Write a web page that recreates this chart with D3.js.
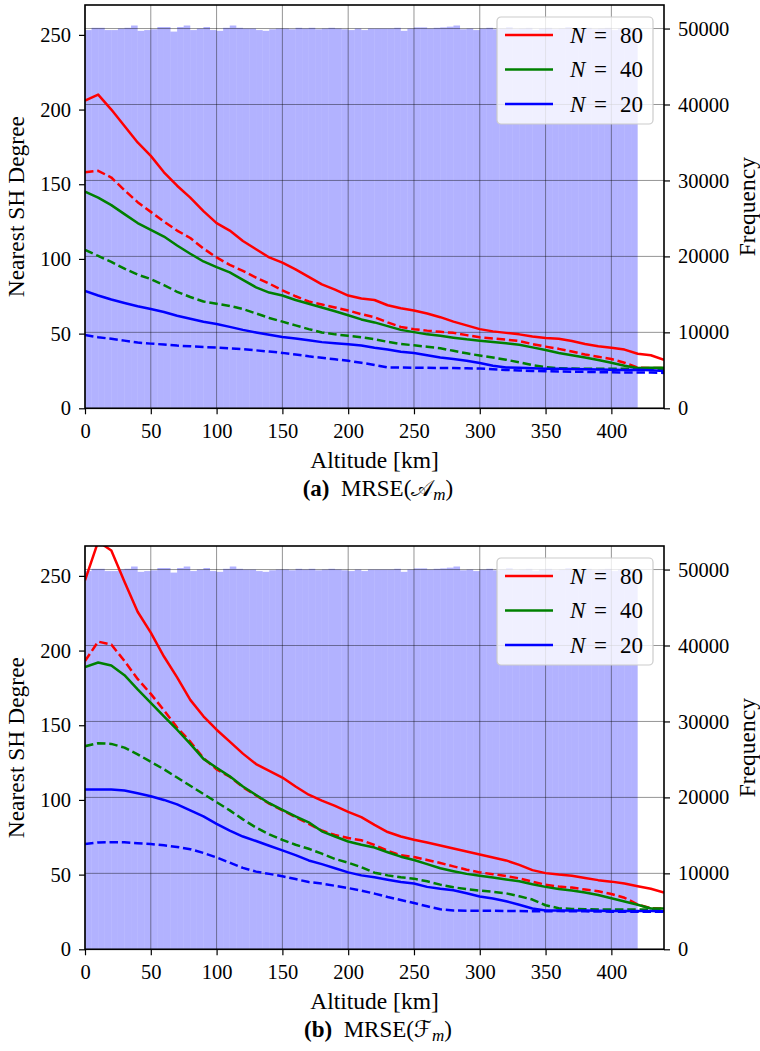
<!DOCTYPE html>
<html>
<head>
<meta charset="utf-8">
<script src="https://cdn.jsdelivr.net/npm/d3@7"></script>
<style>
  body { margin: 0; background: #fff; }
  svg { display: block; font-family: "Liberation Serif", "DejaVu Serif", serif; }
</style>
</head>
<body>
<svg id="fig" width="760" height="1051"></svg>
<script>
// Altitude samples (km) shared by every curve
const altitudes = [0, 10, 20, 30, 40, 50, 60, 70, 80, 90, 100, 110, 120, 130, 140, 150, 160, 170, 180, 190,
    200, 210, 220, 230, 240, 250, 260, 270, 280, 290, 300, 310, 320, 330, 340, 350, 360, 370, 380, 390,
    400, 410, 420, 430, 440];

// Panel (a) : MRSE(A_m)
const redSolidA = [206, 210, 200, 189, 178, 169, 158, 149, 141, 132, 124, 119, 112, 106.5, 101, 97.5, 93, 88, 83, 79.5,
    75.5, 73.5, 72.5, 69, 67, 65.5, 63.5, 61, 58, 55.5, 53, 51.5, 50.5, 49.5, 48, 47, 46.5, 45, 43, 41.5,
    40.5, 39.3, 36.5, 35.5, 32.5];
const redDashA = [158, 159, 154.5, 146, 138, 131.5, 125, 119, 114, 107, 101, 96, 92, 87.5, 83.5, 79, 75, 71.5, 69.5, 67.5,
    65.5, 63, 61, 57.5, 54.5, 53, 52, 51.2, 50.5, 49, 47.5, 46.8, 46, 45, 43, 41.3, 39.8, 38, 36, 34.5,
    33, 30.5, 27.3, 27, 27];
const greenSolidA = [145, 141, 136, 130, 124, 119.5, 115, 109, 103.5, 98.3, 94.5, 91, 86, 81, 77.5, 75.5, 72.5, 70, 67.5, 65,
    62.3, 59.5, 57.5, 55, 52.5, 51, 49.5, 48.5, 47.3, 46.2, 45.3, 44.4, 43.5, 42.5, 40.8, 39, 37, 35.5, 34, 32.3,
    30.5, 28.5, 27, 27.2, 27.2];
const greenDashA = [106, 102, 98, 93.5, 89.5, 86.5, 82.5, 78, 74.5, 71.5, 70, 68.5, 66.5, 63.5, 60.5, 58, 55.5, 53, 50.8, 49.5,
    48.5, 47.5, 46.2, 44.5, 43, 42.2, 41.2, 40.2, 38.5, 36.8, 35.3, 34, 32.5, 30.8, 28.9, 27.5, 26.8, 26.6, 26.5, 26.5,
    26.5, 26.5, 26.5, 26.5, 26.5];
const blueSolidA = [78.5, 75.5, 72.8, 70.5, 68.3, 66.5, 64.5, 62, 60, 58, 56.5, 54.5, 52.5, 50.8, 49.2, 47.8, 46.8, 45.5, 44.3, 43.5,
    42.8, 42, 40.5, 39.3, 37.8, 37, 35.5, 34, 33, 31.8, 30.3, 28.5, 27.3, 27.2, 26.8, 26.5, 26.4, 26.3, 26.2, 26,
    25.8, 25.6, 25.8, 25.5, 25];
const blueDashA = [49, 47.6, 46.5, 45.3, 44, 43.3, 42.7, 42, 41.5, 41, 40.7, 40.2, 39.6, 38.8, 38, 37.1, 36, 34.8, 33.8, 32.8,
    31.8, 30.5, 29, 27.4, 27.3, 27.2, 27.1, 27, 26.9, 26.8, 26.6, 26.2, 25.7, 25.3, 25, 24.8, 24.6, 24.5, 24.4, 24.2,
    24.1, 24, 24, 23.9, 23.7];

// Panel (b) : MRSE(F_m)
const redSolidB = [247, 273, 267, 246, 226, 212, 196, 182, 167, 156, 147, 139, 131, 124, 119.5, 115, 109, 103.5, 99.5, 96,
    92, 88.5, 83.3, 78.5, 75.5, 73.3, 71.5, 69.5, 67.5, 65.5, 63.5, 61.5, 59.5, 56.5, 53, 51, 50, 49.3, 47.8, 46.3,
    45.3, 44, 42.2, 40.5, 38];
const redDashB = [193, 206, 204, 193, 181, 171, 160, 148.5, 139, 128, 120.5, 115.5, 108.5, 103, 97.5, 93, 88.5, 84, 79.5, 76.5,
    74.5, 73, 69.8, 66, 63, 61.8, 59.8, 57.8, 55.5, 53.3, 51.5, 50.3, 49, 47.5, 45.3, 43.2, 42, 41.3, 40, 38.8,
    37, 34.5, 30, 27.5, 27.2];
const greenSolidB = [189, 192, 190, 183.5, 174, 165, 156, 147, 137.5, 127.5, 121.5, 115.8, 109, 103.3, 97.8, 93.4, 89, 85, 79, 75.5,
    72.2, 70, 68.1, 65, 62, 59.8, 57, 54.3, 52.3, 50.5, 49.3, 48, 46.8, 45.5, 43.5, 41.8, 40.3, 39.3, 38, 36.3,
    34.2, 32, 29.8, 27.3, 27.3];
const greenDashB = [136, 138, 137.5, 135, 130.5, 125.5, 120.5, 115, 109.5, 104, 98.5, 93, 87, 81.5, 77, 73.3, 70, 67.3, 64, 60.5,
    58, 55, 51.3, 49.5, 48.2, 47.3, 45.5, 43.3, 41.5, 40.3, 39.3, 38.5, 37.5, 35.5, 33.3, 29.5, 27.5, 27, 26.8, 26.7,
    26.6, 26.6, 26.6, 26.6, 26.6];
const blueSolidB = [107, 107, 107, 106.3, 104.5, 102.5, 100, 97, 93, 89, 84, 79.5, 75.5, 72.5, 69.3, 66.2, 63, 59.5, 57, 54.3,
    51.5, 49.5, 48.2, 46.5, 45, 44, 41.8, 40.5, 39.5, 37.5, 35.3, 34, 32.2, 29.8, 27.3, 26, 26, 26, 25.9, 25.8,
    25.6, 25.6, 25.7, 25.6, 25.5];
const blueDashB = [70.5, 71.5, 71.7, 71.6, 71, 70.5, 69.6, 68.5, 67, 64.5, 61.5, 58, 54.5, 52, 50.5, 48.9, 47, 45, 44, 42.5,
    41, 39.3, 37.3, 35, 33, 31, 28.8, 26.8, 26, 25.8, 25.8, 25.8, 25.7, 25.6, 25.5, 25.5, 25.6, 25.5, 25.4, 25.3,
    25.2, 25.2, 25.2, 25.2, 25.2];

// Altitude histogram: 5 km bins from 0 to 420 km
const histBinWidth = 5;
const histCounts = [49800, 50100, 50100, 49800, 49800, 50000, 50100, 50400, 49700, 49800,
    49900, 50200, 50200, 49600, 50200, 50400, 49800, 50000, 50200, 49800,
    49700, 50100, 50400, 50100, 50000, 50000, 49800, 49700, 49900, 50000,
    50000, 49900, 50100, 50000, 50100, 49900, 50000, 50100, 50000, 49900,
    49800, 50000, 49800, 50000, 50000, 50000, 50000, 50100, 49700, 50000,
    50150, 50150, 50000, 50100, 50150, 50250, 50400, 49900, 50000, 49800,
    50000, 50100, 49900, 50000, 50200, 49900, 50000, 50100, 49800, 50000,
    50100, 49900, 50000, 50200, 49900, 50000, 50100, 49900, 50000, 50100,
    49800, 50000, 50100, 49900];

const xTicks = [0, 50, 100, 150, 200, 250, 300, 350, 400];
const yTicks = [0, 50, 100, 150, 200, 250];
const freqTicks = [0, 10000, 20000, 30000, 40000, 50000];
const legendLabels = ["80", "40", "20"];
const seriesColors = ["#ff0000", "#008000", "#0000ff"];

const svg = d3.select("#fig");
const W0 = 85, W1 = 664, PH = 403.3;

function drawPanel(top, id, solids, dashes, captionLetter, captionSymbol) {
    const g = svg.append("g").attr("transform", `translate(0,${top})`);

    const x = d3.scaleLinear().domain([0, 440]).range([W0, W1]);
    const y = d3.scaleLinear().domain([0, 270]).range([PH, 0]);
    const yf = d3.scaleLinear().domain([0, 53100]).range([PH, 0]);

    g.append("clipPath").attr("id", "clip" + id)
        .append("rect").attr("x", W0).attr("y", 0).attr("width", W1 - W0).attr("height", PH);

    // histogram
    g.append("g")
        .selectAll("rect")
        .data(histCounts)
        .join("rect")
        .attr("x", (d, i) => x(i * histBinWidth))
        .attr("width", x(histBinWidth) - x(0))
        .attr("y", d => yf(d))
        .attr("height", d => PH - yf(d))
        .attr("fill", "#0000ff")
        .attr("fill-opacity", 0.3);

    // grid
    const grid = g.append("g").attr("stroke", "#000").attr("stroke-opacity", 0.42).attr("stroke-width", 1);
    grid.selectAll(".gx").data(xTicks).join("line")
        .attr("x1", d => x(d)).attr("x2", d => x(d)).attr("y1", 0).attr("y2", PH);
    grid.selectAll(".gy").data(freqTicks).join("line")
        .attr("x1", W0).attr("x2", W1).attr("y1", d => yf(d)).attr("y2", d => yf(d));

    // curves
    const line = d3.line().x((d, i) => x(altitudes[i])).y(d => y(d));
    const lines = g.append("g").attr("clip-path", `url(#clip${id})`).attr("fill", "none")
        .attr("stroke-width", 2.5).attr("stroke-linejoin", "round");
    solids.forEach((s, k) => {
        lines.append("path").attr("d", line(s)).attr("stroke", seriesColors[k]);
        lines.append("path").attr("d", line(dashes[k])).attr("stroke", seriesColors[k])
            .attr("stroke-dasharray", "8.5,3.8");
    });

    // axes
    const tickFont = g => g.selectAll("text").attr("font-size", 20.5).attr("fill", "#000")
        .attr("font-family", "Liberation Serif, DejaVu Serif, serif");
    const styleAxis = g => {
        g.select(".domain").remove();
        g.selectAll(".tick line").attr("stroke", "#000").attr("stroke-width", 1.2);
        tickFont(g);
    };
    g.append("g").attr("transform", `translate(0,${PH})`)
        .call(d3.axisBottom(x).tickValues(xTicks).tickSize(6).tickPadding(9).tickFormat(d3.format("d")))
        .call(styleAxis);
    g.append("g").attr("transform", `translate(${W0},0)`)
        .call(d3.axisLeft(y).tickValues(yTicks).tickSize(6).tickPadding(8).tickFormat(d3.format("d")))
        .call(styleAxis);
    g.append("g").attr("transform", `translate(${W1},0)`)
        .call(d3.axisRight(yf).tickValues(freqTicks).tickSize(6).tickPadding(8).tickFormat(d3.format("d")))
        .call(styleAxis);

    // spines
    g.append("rect").attr("x", W0).attr("y", 0).attr("width", W1 - W0).attr("height", PH)
        .attr("fill", "none").attr("stroke", "#000").attr("stroke-width", 1.6);

    // legend
    const lg = g.append("g").attr("transform", "translate(497,12)");
    lg.append("rect").attr("width", 156).attr("height", 107).attr("rx", 4)
        .attr("fill", "#fff").attr("fill-opacity", 0.8)
        .attr("stroke", "#cccccc").attr("stroke-width", 1.2);
    legendLabels.forEach((lab, k) => {
        const cy = 18 + k * 34.5;
        lg.append("line").attr("x1", 8).attr("x2", 56).attr("y1", cy).attr("y2", cy)
            .attr("stroke", seriesColors[k]).attr("stroke-width", 2.5);
        const t = lg.append("text").attr("y", cy + 7.5).attr("font-size", 23).attr("fill", "#000");
        t.append("tspan").attr("x", 73).attr("font-style", "italic").text("N");
        t.append("tspan").attr("x", 97).text("=");
        t.append("tspan").attr("x", 123).text(lab);
    });

    // axis labels
    g.append("text").attr("x", (W0 + W1) / 2).attr("y", 463).attr("text-anchor", "middle")
        .attr("font-size", 23.5).text("Altitude [km]");
    g.append("text").attr("transform", `translate(24,${PH / 2}) rotate(-90)`).attr("text-anchor", "middle")
        .attr("font-size", 23.5).text("Nearest SH Degree");
    g.append("text").attr("transform", `translate(755,${PH / 2}) rotate(-90)`).attr("text-anchor", "middle")
        .attr("font-size", 23.5).text("Frequency");

    // caption
    const cap = g.append("text").attr("x", 378).attr("y", 491).attr("text-anchor", "middle").attr("font-size", 23);
    cap.append("tspan").attr("font-weight", "bold").text(`(${captionLetter})`);
    cap.append("tspan").text("\u2002MRSE(");
    cap.append("tspan").attr("font-family", "DejaVu Serif, DejaVu Sans, serif").text(captionSymbol);
    cap.append("tspan").attr("font-style", "italic").attr("font-size", 17).attr("dy", 4).text("m");
    cap.append("tspan").attr("dy", -4).text(")");
}

drawPanel(5, "a", [redSolidA, greenSolidA, blueSolidA], [redDashA, greenDashA, blueDashA], "a", "\u{1D49C}");
drawPanel(546, "b", [redSolidB, greenSolidB, blueSolidB], [redDashB, greenDashB, blueDashB], "b", "\u2131");
</script>
</body>
</html>
